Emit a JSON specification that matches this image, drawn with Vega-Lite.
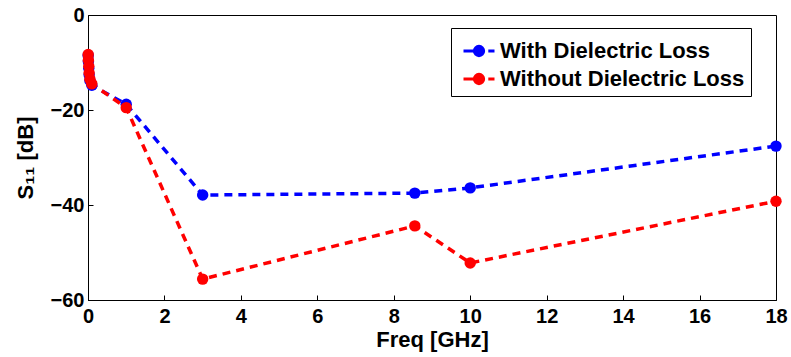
{
  "$schema": "https://vega.github.io/schema/vega-lite/v6.json",
  "autosize": "none",
  "width": 688,
  "height": 285,
  "padding": {"left": 88, "top": 15, "right": 15, "bottom": 57},
  "background": "white",
  "config": {
    "font": "Liberation Sans",
    "view": {"stroke": "black", "strokeWidth": 1},
    "axis": {
      "labelFont": "Liberation Sans", "labelFontWeight": "bold", "labelFontSize": 20, "labelColor": "black",
      "titleFont": "Liberation Sans", "titleFontWeight": "bold", "titleFontSize": 22, "titleColor": "black",
      "domainColor": "black", "tickColor": "black", "grid": false, "labelFlush": false
    }
  },
  "data": {"values": [
    {"f": 0.005, "s": -8.5, "series": "With Dielectric Loss"},
    {"f": 0.01, "s": -9.8, "series": "With Dielectric Loss"},
    {"f": 0.02, "s": -11.2, "series": "With Dielectric Loss"},
    {"f": 0.03, "s": -12.6, "series": "With Dielectric Loss"},
    {"f": 0.05, "s": -13.8, "series": "With Dielectric Loss"},
    {"f": 0.1, "s": -14.8, "series": "With Dielectric Loss"},
    {"f": 1, "s": -18.8, "series": "With Dielectric Loss"},
    {"f": 3, "s": -37.9, "series": "With Dielectric Loss"},
    {"f": 8.55, "s": -37.5, "series": "With Dielectric Loss"},
    {"f": 10, "s": -36.4, "series": "With Dielectric Loss"},
    {"f": 18, "s": -27.6, "series": "With Dielectric Loss"},
    {"f": 0.005, "s": -8.3, "series": "Without Dielectric Loss"},
    {"f": 0.01, "s": -9.5, "series": "Without Dielectric Loss"},
    {"f": 0.02, "s": -10.8, "series": "Without Dielectric Loss"},
    {"f": 0.03, "s": -12.2, "series": "Without Dielectric Loss"},
    {"f": 0.05, "s": -13.5, "series": "Without Dielectric Loss"},
    {"f": 0.1, "s": -14.5, "series": "Without Dielectric Loss"},
    {"f": 1, "s": -19.5, "series": "Without Dielectric Loss"},
    {"f": 3, "s": -55.6, "series": "Without Dielectric Loss"},
    {"f": 8.55, "s": -44.4, "series": "Without Dielectric Loss"},
    {"f": 10, "s": -52.2, "series": "Without Dielectric Loss"},
    {"f": 18, "s": -39.2, "series": "Without Dielectric Loss"}
  ]},
  "mark": {"type": "line", "strokeWidth": 3.5, "strokeDash": [8, 6], "point": {"filled": true, "size": 130, "opacity": 1}},
  "encoding": {
    "x": {"field": "f", "type": "quantitative", "scale": {"domain": [0, 18], "nice": false},
      "axis": {"title": "Freq [GHz]", "values": [0, 2, 4, 6, 8, 10, 12, 14, 16, 18], "tickSize": -5, "labelPadding": 11, "titlePadding": 3}},
    "y": {"field": "s", "type": "quantitative", "scale": {"domain": [-60, 0], "nice": false},
      "axis": {"title": "S₁₁ [dB]", "values": [-60, -40, -20, 0], "tickSize": -5, "labelPadding": 9, "titlePadding": 13}},
    "color": {"field": "series", "type": "nominal",
      "scale": {"domain": ["With Dielectric Loss", "Without Dielectric Loss"], "range": ["#0000ff", "#ff0000"]},
      "legend": {
        "title": null, "orient": "none", "legendX": 363, "legendY": 13,
        "strokeColor": "black", "fillColor": "white", "padding": 6,
        "labelFont": "Liberation Sans", "labelFontWeight": "bold", "labelFontSize": 22, "labelColor": "black",
        "labelOffset": 4, "labelLimit": 500, "rowPadding": 0, "symbolSize": 961, "symbolOffset": 5,
        "symbolType": "M-1,0H-0.3M0.6,0H1M0.3,0A0.3,0.3,0,1,1,-0.3,0A0.3,0.3,0,1,1,0.3,0Z",
        "symbolStrokeWidth": 3,
        "encode": {"symbols": {"update": {
          "fill": {"scale": "color", "field": "value"},
          "stroke": {"scale": "color", "field": "value"},
          "opacity": {"value": 1}
        }}}
      }}
  }
}
